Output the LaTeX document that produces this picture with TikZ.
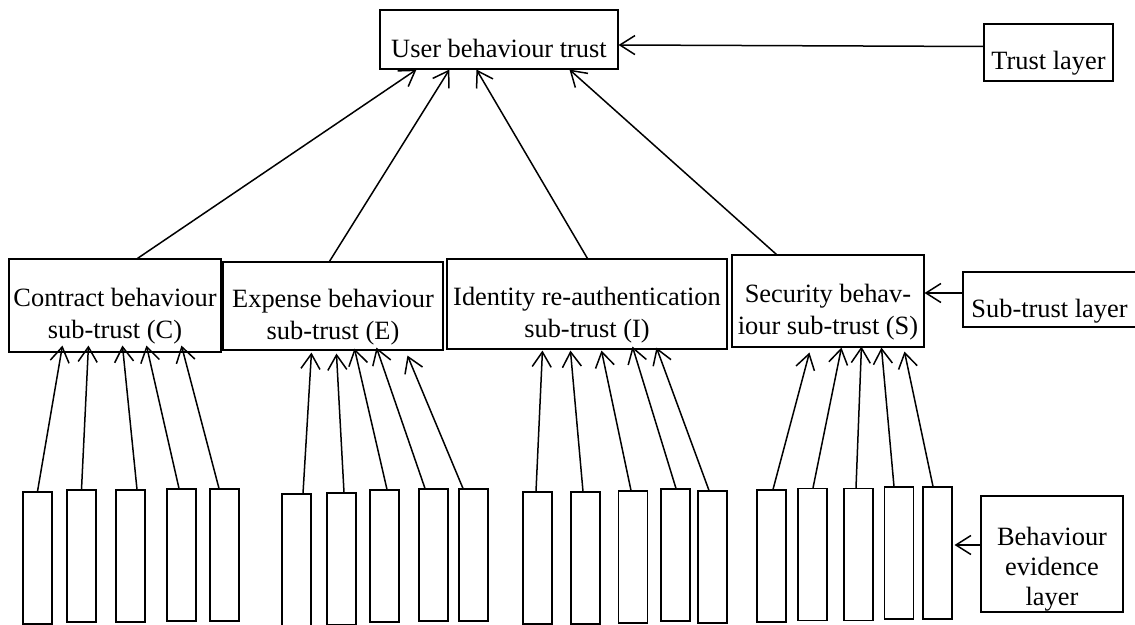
\documentclass[tikz,border=0pt]{standalone}
\usepackage{fontspec}
\setmainfont{Liberation Serif}
\usetikzlibrary{arrows.meta,calc}
\newcommand{\boxstrut}{\rule{0pt}{20pt}}
\tikzset{
	arr/.style={line width=0.75pt,-{Straight Barb[length=7.5pt,width=9.5pt]}},
	subbox/.style={draw,line width=0.55pt,inner sep=0pt,align=center,font=\fontsize{13.2}{16}\selectfont},
	layerbox/.style={draw,line width=0.55pt,inner sep=0pt,font=\fontsize{13.2}{16}\selectfont},
	evbox/.style={draw,line width=0.55pt,inner sep=0pt,minimum width=14.5pt,minimum height=66pt}
}
\begin{document}
\begin{tikzpicture}[x=0.5pt,y=-0.5pt]
	\useasboundingbox (0,0) rectangle (1135,625);
	%Trust layer
	\node[layerbox,minimum width=119pt,minimum height=29.5pt,text height=24pt,text depth=5.5pt] (user) at (499,39.5) {User behaviour trust};
	\node[layerbox,minimum width=64.5pt,minimum height=28.5pt,text height=23pt,text depth=5.5pt] (trust) at (1048.5,52.5) {Trust layer};
	%Sub-trust layer
	\node[subbox,minimum width=106pt,minimum height=46.5pt] (sc) at (115,305.5) {\boxstrut Contract behaviour\\sub-trust (C)};
	\node[subbox,minimum width=110pt,minimum height=44pt] (se) at (333,306) {\boxstrut Expense behaviour\\sub-trust (E)};
	\node[subbox,minimum width=140pt,minimum height=45pt] (si) at (587,304) {\boxstrut Identity re-authentication\\sub-trust (I)};
	\node[subbox,minimum width=96pt,minimum height=46pt] (ss) at (828,301) {\boxstrut Security behav-\\iour sub-trust (S)};
	\node[layerbox,minimum width=86.5pt,minimum height=27.5pt,text height=23pt,text depth=4.5pt] (subl) at (1049.5,299.5) {Sub-trust layer};
	%Behaviour evidence layer
	\node[evbox] (ev1) at (37.5,558) {};
	\node[evbox] (ev2) at (81.5,556) {};
	\node[evbox] (ev3) at (130.5,556) {};
	\node[evbox] (ev4) at (181.5,555) {};
	\node[evbox] (ev5) at (224.5,555) {};
	\node[evbox] (ev6) at (296.5,560) {};
	\node[evbox] (ev7) at (341.5,559) {};
	\node[evbox] (ev8) at (384.5,556) {};
	\node[evbox] (ev9) at (433.5,555) {};
	\node[evbox] (ev10) at (473.5,555) {};
	\node[evbox] (ev11) at (537.5,558) {};
	\node[evbox] (ev12) at (585.5,558) {};
	\node[evbox] (ev13) at (633,557) {};
	\node[evbox] (ev14) at (675.5,555) {};
	\node[evbox] (ev15) at (712.5,557) {};
	\node[evbox] (ev16) at (771.5,556) {};
	\node[evbox] (ev17) at (812.5,554.5) {};
	\node[evbox] (ev18) at (858.5,554.5) {};
	\node[evbox] (ev19) at (899,553) {};
	\node[evbox] (ev20) at (937.5,553) {};
	\node[subbox,minimum width=71pt,minimum height=58pt,font=\fontsize{13.2}{15}\selectfont] (evl) at (1052,554) {\rule{0pt}{24pt}Behaviour\\evidence\\layer};
	%Sub-trust to user trust
	\draw[arr] ($(sc.north west)+(129,0)$) -- ($(user.south west)+(37,0)$);
	\draw[arr] ($(se.north west)+(107,0)$) -- ($(user.south west)+(70,0)$);
	\draw[arr] ($(si.north west)+(141,0)$) -- ($(user.south west)+(97,0)$);
	\draw[arr] ($(ss.north west)+(45,0)$) -- ($(user.south west)+(190,0)$);
	%Evidence to sub-trust
	\draw[arr] (ev1.north) -- ($(sc.south west)+(54,-7)$);
	\draw[arr] (ev2.north) -- ($(sc.south west)+(80,-7)$);
	\draw[arr] ($(ev3.north)+(6.5,0)$) -- ($(sc.south west)+(114,-7)$);
	\draw[arr] ($(ev4.north)+(-2.5,0)$) -- ($(sc.south west)+(138,-7)$);
	\draw[arr] ($(ev5.north)+(-5.5,0)$) -- ($(sc.south west)+(173,-7)$);
	\draw[arr] ($(ev6.north)+(6.5,0)$) -- ($(se.south west)+(89,2)$);
	\draw[arr] ($(ev7.north)+(2.5,0)$) -- ($(se.south west)+(114,3)$);
	\draw[arr] ($(ev8.north)+(2.5,0)$) -- ($(se.south west)+(132,-2)$);
	\draw[arr] ($(ev9.north)+(-8.5,0)$) -- ($(se.south west)+(154,-3)$);
	\draw[arr] ($(ev10.north)+(-10.5,0)$) -- ($(se.south west)+(185,5)$);
	\draw[arr] ($(ev11.north)+(-1.5,0)$) -- ($(si.south west)+(96,1)$);
	\draw[arr] ($(ev12.north)+(-2.5,0)$) -- ($(si.south west)+(124,1)$);
	\draw[arr] ($(ev13.north)+(-2,0)$) -- ($(si.south west)+(155,1)$);
	\draw[arr] ($(ev14.north)+(0.5,0)$) -- ($(si.south west)+(186,-3)$);
	\draw[arr] ($(ev15.north)+(-3.5,0)$) -- ($(si.south west)+(210,-2)$);
	\draw[arr] ($(ev16.north)+(1.5,0)$) -- ($(ss.south west)+(78,5)$);
	\draw[arr] ($(ev17.north)+(0.5,0)$) -- ($(ss.south west)+(110,0)$);
	\draw[arr] ($(ev18.north)+(-2.5,0)$) -- ($(ss.south west)+(130,-1)$);
	\draw[arr] ($(ev19.north)+(-5,0)$) -- ($(ss.south west)+(150,0)$);
	\draw[arr] ($(ev20.north)+(-4.5,0)$) -- ($(ss.south west)+(173,4)$);
	%Layer labels
	\draw[arr] ($(trust.west)+(0,-6)$) -- ($(user.east)+(0,5.5)$);
	\draw[arr] ($(subl.west)+(0,-6.5)$) -- ($(ss.east)+(0,-8)$);
	\draw[arr] ($(evl.west)+(0,-9)$) -- ($(ev20.east)+(2,-8)$);
\end{tikzpicture}
\end{document}
